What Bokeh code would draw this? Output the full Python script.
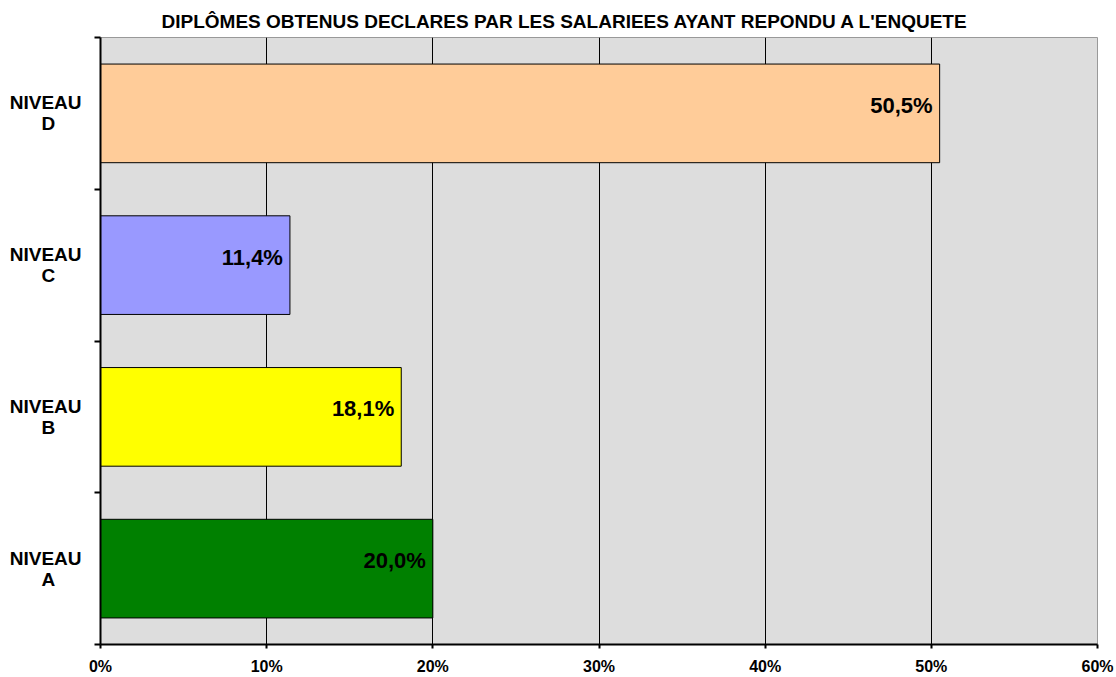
from bokeh.plotting import figure
from bokeh.models import Range1d, FixedTicker, ColumnDataSource, PrintfTickFormatter
from bokeh.embed import file_html
from bokeh.resources import INLINE

# ---- data ----
niveaux = ["A", "B", "C", "D"]
valeurs = [20.0, 18.1, 11.4, 50.5]
couleurs = ["#008000", "#FFFF00", "#9999FF", "#FFCC99"]
x_ticks = [0, 10, 20, 30, 40, 50, 60]
titre = "DIPLÔMES OBTENUS DECLARES PAR LES SALARIEES AYANT REPONDU A L'ENQUETE"

FONT = "Liberation Sans"

pos = [i + 0.5 for i in range(len(niveaux))]
labels = [("%.1f" % v).replace(".", ",") + "%" for v in valeurs]
src = ColumnDataSource(dict(y=pos, v=valeurs, c=couleurs, lab=labels))

W, H = 1116, 677
p = figure(width=W, height=H, output_backend="svg", toolbar_location=None,
           x_range=Range1d(0, 60), y_range=Range1d(0, len(niveaux)),
           min_border_left=100, min_border_right=19, min_border_top=37, min_border_bottom=32,
           title=titre)

p.title.text_font = FONT
p.title.text_font_size = "19px"
p.title.text_font_style = "bold"
p.title.align = "left"
p.title.offset = 61
p.title.standoff = 11
p.title.text_color = "#000000"

p.background_fill_color = "#DDDDDD"
p.border_fill_color = "#FFFFFF"
p.outline_line_color = "#999999"
p.outline_line_width = 1

p.hbar(y="y", right="v", left=0, height=0.65, fill_color="c", line_color="#000000",
       line_width=1, source=src)

p.text(x="v", y="y", text="lab", source=src, text_align="right", text_baseline="middle",
       x_offset=-7, y_offset=-8, text_font_size="22px", text_font_style="bold",
       text_color="#000000", text_font={"value": FONT})

# grid
p.xgrid.ticker = FixedTicker(ticks=x_ticks)
p.xgrid.grid_line_color = "#000000"
p.xgrid.grid_line_width = 1
p.ygrid.grid_line_color = None

# x axis
xa = p.xaxis[0]
xa.ticker = FixedTicker(ticks=x_ticks)
xa.formatter = PrintfTickFormatter(format="%d%%")
xa.axis_line_color = "#000000"
xa.axis_line_width = 2
xa.major_tick_line_color = "#000000"
xa.major_tick_line_width = 2
xa.major_tick_in = 0
xa.major_tick_out = 4
xa.minor_tick_line_color = None
xa.major_label_standoff = 9
xa.major_label_text_font = FONT
xa.major_label_text_font_size = "16px"
xa.major_label_text_font_style = "bold"
xa.major_label_text_color = "#000000"

# y axis: labels at category centres, ticks at category boundaries
ya = p.yaxis[0]
ya.ticker = FixedTicker(ticks=pos, minor_ticks=list(range(len(niveaux) + 1)))
pad = "\u00a0" * 5
ya.major_label_overrides = {pp: "NIVEAU\n" + n + pad for pp, n in zip(pos, niveaux)}
ya.axis_line_color = "#000000"
ya.axis_line_width = 2
ya.major_tick_line_color = None
ya.major_tick_in = 0
ya.major_tick_out = 0
ya.minor_tick_line_color = "#000000"
ya.minor_tick_line_width = 2
ya.minor_tick_in = 0
ya.minor_tick_out = 6
ya.major_label_standoff = 13
ya.major_label_text_font = FONT
ya.major_label_text_font_size = "19px"
ya.major_label_text_font_style = "bold"
ya.major_label_text_color = "#000000"
ya.major_label_text_line_height = 1.0

open("out.html", "w").write(file_html(p, INLINE))
